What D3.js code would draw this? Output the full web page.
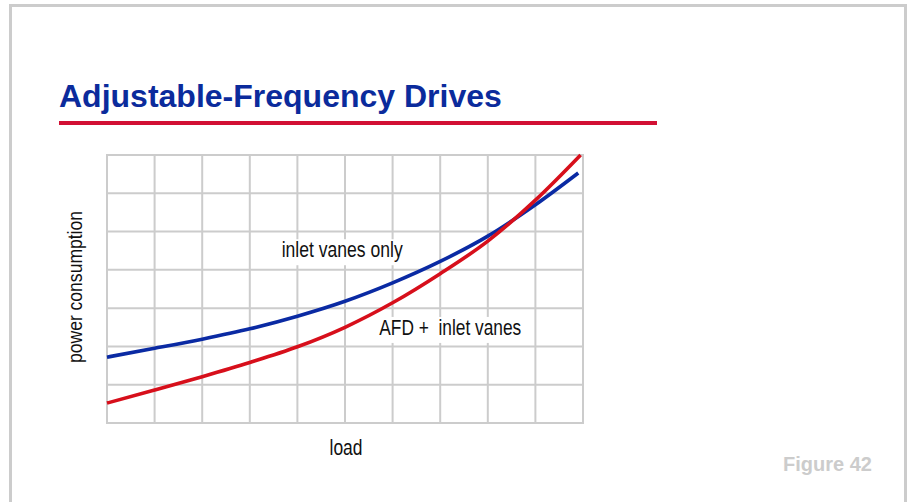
<!DOCTYPE html>
<html>
<head>
<meta charset="utf-8">
<script src="https://cdn.jsdelivr.net/npm/d3@7"></script>
<style>
  body { margin: 0; background: #fff; }
  text { font-family: "Liberation Sans", Arial, Helvetica, sans-serif; }
</style>
</head>
<body>
<script>
// values (grid units: 10 load columns, 7 power rows)
var blueLoad  = [0, 1, 2, 3, 4, 5, 6, 7, 8, 9, 9.9];
var bluePower = [1.72, 1.95, 2.19, 2.46, 2.79, 3.18, 3.66, 4.22, 4.88, 5.70, 6.53];
var redLoad   = [0, 1, 2, 3, 4, 5, 6, 7, 8, 9, 9.95];
var redPower  = [0.52, 0.86, 1.21, 1.58, 1.99, 2.50, 3.14, 3.90, 4.75, 5.82, 7.0];
var loadCols = 10;
var powerRows = 7;

var width = 909, height = 502;

var svg = d3.select('body').append('svg')
  .attr('width', width)
  .attr('height', height);

// slide frame
svg.append('rect')
  .attr('x', 10.5).attr('y', 5.5)
  .attr('width', 895).attr('height', 520)
  .attr('fill', 'none')
  .attr('stroke', '#cccccc')
  .attr('stroke-width', 3);

// title + red rule
svg.append('text')
  .attr('x', 59).attr('y', 107)
  .attr('fill', '#0b2b9c')
  .style('font-weight', 'bold')
  .style('font-size', '32px')
  .text('Adjustable-Frequency Drives');

svg.append('rect')
  .attr('x', 59).attr('y', 121)
  .attr('width', 598).attr('height', 4)
  .attr('fill', '#d21034');

var x = d3.scaleLinear().domain([0, loadCols]).range([107, 583]);
var y = d3.scaleLinear().domain([0, powerRows]).range([423, 155]);

// grid
var grid = svg.append('g').attr('stroke', '#cccccc').attr('stroke-width', 2);
grid.selectAll('.vl').data(d3.range(0, loadCols + 1)).enter().append('line')
  .attr('x1', function(d) { return x(d); }).attr('x2', function(d) { return x(d); })
  .attr('y1', y(0) + 1).attr('y2', y(powerRows) - 1);
grid.selectAll('.hl').data(d3.range(0, powerRows + 1)).enter().append('line')
  .attr('y1', function(d) { return y(d); }).attr('y2', function(d) { return y(d); })
  .attr('x1', x(0) - 1).attr('x2', x(loadCols) + 1);

// curve labels sit on white boxes that hide the grid
var labels = [
  { text: 'inlet vanes only', load: 3.67, power: 4.33, len: 121 },
  { text: 'AFD +  inlet vanes', load: 5.72, power: 2.30, len: 142 }
];
var labelG = svg.append('g');
labels.forEach(function(l) {
  var bg = labelG.append('rect').attr('fill', '#fff');
  var t = labelG.append('text')
    .attr('x', x(l.load)).attr('y', y(l.power))
    .style('font-size', '22px')
    .style('white-space', 'pre')
    .attr('textLength', l.len)
    .attr('lengthAdjust', 'spacingAndGlyphs')
    .attr('fill', '#111')
    .text(l.text);
  var b = t.node().getBBox();
  bg.attr('x', b.x - 6).attr('y', b.y + 2)
    .attr('width', b.width + 12).attr('height', b.height + 1);
});

var line = d3.line()
  .x(function(d) { return x(d[0]); })
  .y(function(d) { return y(d[1]); })
  .curve(d3.curveMonotoneX);

var blueData = d3.zip(blueLoad, bluePower);
var redData = d3.zip(redLoad, redPower);

svg.append('path')
  .attr('d', line(blueData))
  .attr('fill', 'none')
  .attr('stroke', '#0a2aa3')
  .attr('stroke-width', 3.6);

svg.append('path')
  .attr('d', line(redData))
  .attr('fill', 'none')
  .attr('stroke', '#d70f1b')
  .attr('stroke-width', 3.6);

// axis titles
svg.append('text')
  .attr('x', 346).attr('y', 455)
  .attr('text-anchor', 'middle')
  .style('font-size', '22px')
  .attr('textLength', 33)
  .attr('lengthAdjust', 'spacingAndGlyphs')
  .attr('fill', '#111')
  .text('load');

svg.append('text')
  .attr('transform', 'translate(82,287) rotate(-90)')
  .attr('text-anchor', 'middle')
  .style('font-size', '21px')
  .attr('textLength', 152)
  .attr('lengthAdjust', 'spacingAndGlyphs')
  .attr('fill', '#111')
  .text('power consumption');

svg.append('text')
  .attr('x', 872).attr('y', 471)
  .attr('text-anchor', 'end')
  .style('font-size', '20px')
  .style('font-weight', 'bold')
  .attr('fill', '#cccccc')
  .text('Figure 42');
</script>
</body>
</html>
